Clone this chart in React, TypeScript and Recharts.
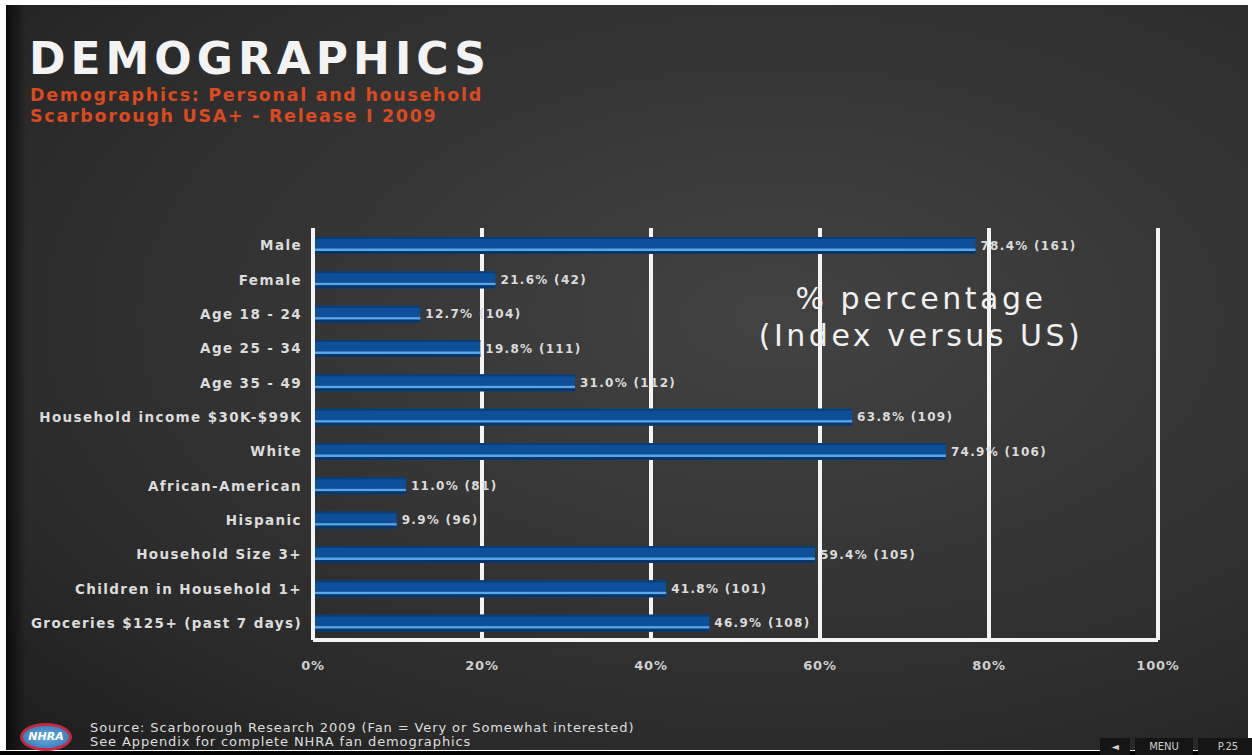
import { BarChart, Bar, XAxis, YAxis, CartesianGrid, LabelList } from 'recharts'

const categories = [
  'Male',
  'Female',
  'Age 18 - 24',
  'Age 25 - 34',
  'Age 35 - 49',
  'Household income $30K-$99K',
  'White',
  'African-American',
  'Hispanic',
  'Household Size 3+',
  'Children in Household 1+',
  'Groceries $125+ (past 7 days)',
]
const percents = [78.4, 21.6, 12.7, 19.8, 31.0, 63.8, 74.9, 11.0, 9.9, 59.4, 41.8, 46.9]
const indexVsUs = [161, 42, 104, 111, 112, 109, 106, 81, 96, 105, 101, 108]
const xTicks = [0, 20, 40, 60, 80, 100]

const data = categories.map((name, i) => ({ name, pct: percents[i], idx: indexVsUs[i] }))

const FONT = '"DejaVu Sans", Verdana, sans-serif'
const TEXT = '#dcdcdc'

function CategoryTick(props: any) {
  const { x, y, payload } = props
  return (
    <text
      x={x - 11}
      y={y + 5}
      textAnchor="end"
      fill={TEXT}
      fontFamily={FONT}
      fontWeight="bold"
      fontSize={13.5}
      letterSpacing={1.4}
    >
      {payload.value}
    </text>
  )
}

function PercentTick(props: any) {
  const { x, y, payload } = props
  return (
    <text
      x={x}
      y={y + 22}
      textAnchor="middle"
      fill="#cfcfcf"
      fontFamily={FONT}
      fontWeight="bold"
      fontSize={13}
      letterSpacing={0.8}
    >
      {`${payload.value}%`}
    </text>
  )
}

function ChalkBar(props: any) {
  const { x, y, width, height } = props
  if (!width || width <= 0) return null
  return (
    <g>
      <rect x={x} y={y} width={width} height={height} fill="#0d5099" />
      <rect x={x} y={y} width={width} height={2} fill="#0a3d78" />
      <rect x={x} y={y + height - 5.5} width={width} height={2.5} fill="#5aa6e8" />
      <rect x={x} y={y + height - 3} width={width} height={3} fill="#083669" />
    </g>
  )
}

function ValueLabel(props: any) {
  const { x, y, width, height, index } = props
  const row = data[index]
  return (
    <text
      x={x + width + 5}
      y={y + height / 2 + 4}
      fill={TEXT}
      fontFamily={FONT}
      fontWeight="bold"
      fontSize={12}
      letterSpacing={1.3}
    >
      {`${row.pct.toFixed(1)}% (${row.idx})`}
    </text>
  )
}

export default function App() {
  return (
    <div
      style={{
        position: 'absolute',
        left: 0,
        top: 0,
        width: 1252,
        height: 755,
        background: '#ffffff',
        overflow: 'hidden',
        fontFamily: FONT,
      }}
    >
      <div
        style={{
          position: 'absolute',
          left: 6,
          top: 5,
          width: 1242,
          height: 745,
          background:
            'radial-gradient(ellipse at 62% 42%, #434343 0%, #363636 40%, #2a2a2a 75%, #1d1d1d 100%)',
        }}
      />
      <div
        style={{
          position: 'absolute',
          left: 6,
          top: 5,
          width: 20,
          height: 745,
          background: 'linear-gradient(to right, #0c0c0c, rgba(20,20,20,0))',
        }}
      />
      <div style={{ position: 'absolute', left: 0, top: 0 }}>
        <BarChart
          width={1252}
          height={755}
          data={data}
          layout="vertical"
          margin={{ top: 228, right: 94, bottom: 85, left: 0 }}
          barSize={17}
        >
          <CartesianGrid horizontal={false} vertical stroke="#f4f4f4" strokeWidth={4} />
          <XAxis
            type="number"
            domain={[0, 100]}
            ticks={xTicks}
            height={30}
            axisLine={{ stroke: '#f4f4f4', strokeWidth: 4 }}
            tickLine={false}
            tick={<PercentTick />}
            interval={0}
          />
          <YAxis
            type="category"
            dataKey="name"
            width={313}
            axisLine={{ stroke: '#f4f4f4', strokeWidth: 4 }}
            tickLine={false}
            tickSize={0}
            tickMargin={0}
            tick={<CategoryTick />}
            interval={0}
          />
          <Bar dataKey="pct" shape={<ChalkBar />} isAnimationActive={false}>
            <LabelList dataKey="pct" content={<ValueLabel />} />
          </Bar>
        </BarChart>
      </div>

      <div
        style={{
          position: 'absolute',
          left: 29,
          top: 33,
          color: '#f3f3f3',
          fontWeight: 'bold',
          fontSize: 44,
          letterSpacing: 5,
          lineHeight: '51px',
        }}
      >
        DEMOGRAPHICS
      </div>
      <div
        style={{
          position: 'absolute',
          left: 30,
          top: 85,
          color: '#dc4a1f',
          fontWeight: 'bold',
          fontSize: 17.5,
          letterSpacing: 1.7,
          lineHeight: '20.5px',
        }}
      >
        <div>Demographics: Personal and household</div>
        <div>Scarborough USA+ - Release I 2009</div>
      </div>

      <div
        style={{
          position: 'absolute',
          left: 721,
          top: 280,
          width: 400,
          textAlign: 'center',
          color: '#f0f0f0',
          fontSize: 30,
          letterSpacing: 3.5,
          lineHeight: '37px',
        }}
      >
        <div>% percentage</div>
        <div>(Index versus US)</div>
      </div>

      <div
        style={{
          position: 'absolute',
          left: 20,
          top: 723,
          width: 46,
          height: 22,
          borderRadius: '50%',
          border: '3px solid #c42a45',
          background: 'radial-gradient(ellipse at 50% 50%, #6aaee0, #2f6fb0)',
          color: '#ffffff',
          fontSize: 11,
          fontWeight: 'bold',
          fontStyle: 'italic',
          textAlign: 'center',
          lineHeight: '22px',
        }}
      >
        NHRA
      </div>
      <div
        style={{
          position: 'absolute',
          left: 90,
          top: 721,
          color: '#dedede',
          fontSize: 13,
          letterSpacing: 0.9,
          lineHeight: '14px',
        }}
      >
        <div>Source: Scarborough Research 2009 (Fan = Very or Somewhat interested)</div>
        <div>See Appendix for complete NHRA fan demographics</div>
      </div>

      <div
        style={{ position: 'absolute', left: 0, top: 751, width: 1252, height: 4, background: '#000' }}
      />
      <div
        style={{
          position: 'absolute',
          left: 1100,
          top: 738,
          display: 'flex',
          gap: 5,
          color: '#cfcfcf',
          fontSize: 10,
          lineHeight: '17px',
        }}
      >
        <div style={{ width: 30, height: 17, background: '#151515', textAlign: 'center' }}>◄</div>
        <div style={{ width: 58, height: 17, background: '#151515', textAlign: 'center' }}>MENU</div>
        <div style={{ width: 60, height: 17, background: '#151515', textAlign: 'center' }}>P.25</div>
      </div>
    </div>
  )
}
